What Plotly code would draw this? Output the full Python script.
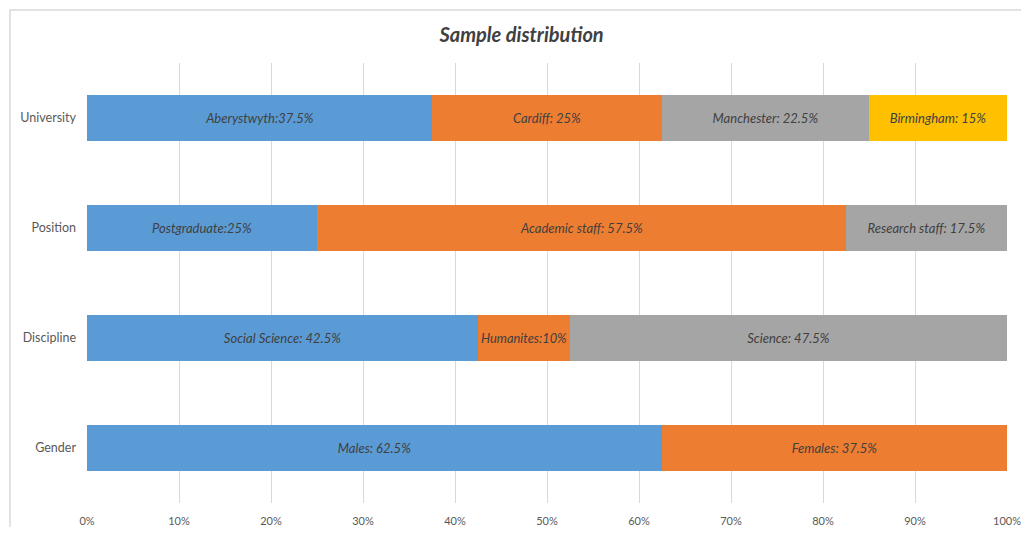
import plotly.graph_objects as go

categories = ["Gender", "Discipline", "Position", "University"]

seg1_values = [62.5, 42.5, 25, 37.5]
seg1_labels = ["Males: 62.5%", "Social Science: 42.5%", "Postgraduate:25%", "Aberystwyth:37.5%"]

seg2_values = [37.5, 10, 57.5, 25]
seg2_labels = ["Females: 37.5%", "Humanites:10%", "Academic staff: 57.5%", "Cardiff: 25%"]

seg3_values = [None, 47.5, 17.5, 22.5]
seg3_labels = ["", "Science: 47.5%", "Research staff: 17.5%", "Manchester: 22.5%"]

seg4_values = [None, None, None, 15]
seg4_labels = ["", "", "", "Birmingham: 15%"]

x_ticks = [0, 10, 20, 30, 40, 50, 60, 70, 80, 90, 100]
x_tick_labels = ["0%", "10%", "20%", "30%", "40%", "50%", "60%", "70%", "80%", "90%", "100%"]

colors = ["#5B9BD5", "#ED7D31", "#A5A5A5", "#FFC000"]

fig = go.Figure()
for vals, labs, col in [(seg1_values, seg1_labels, colors[0]),
                        (seg2_values, seg2_labels, colors[1]),
                        (seg3_values, seg3_labels, colors[2]),
                        (seg4_values, seg4_labels, colors[3])]:
    fig.add_trace(go.Bar(
        y=categories, x=vals, orientation="h",
        marker=dict(color=col, line=dict(width=0)),
        text=labs, textposition="inside", insidetextanchor="middle",
        textangle=0,
        textfont=dict(family="Lato, sans-serif", size=13, color="#404040", style="italic"),
        width=0.41, hoverinfo="skip", showlegend=False,
    ))

fig.update_layout(
    width=1013, height=519,
    barmode="stack",
    paper_bgcolor="white", plot_bgcolor="white",
    margin=dict(l=79, r=14, t=55, b=24),
    title=dict(text="<b><i>Sample distribution</i></b>", x=0.507, xanchor="center",
               y=0.948, yanchor="middle",
               font=dict(family="Lato, sans-serif", size=20, color="#404040")),
    font=dict(family="Lato, sans-serif", color="#595959"),
)
fig.update_xaxes(range=[0, 100], tickvals=x_ticks, ticktext=x_tick_labels,
                 showgrid=True, gridcolor="#D9D9D9", gridwidth=1,
                 zeroline=False, showline=False, automargin=False,
                 ticklabeloverflow="allow", ticklabelstandoff=10,
                 tickfont=dict(size=11, color="#595959"))
fig.update_yaxes(categoryorder="array", categoryarray=categories,
                 showgrid=False, zeroline=False, showline=False, automargin=False,
                 ticks="", ticklabelstandoff=10,
                 tickfont=dict(size=12.5, color="#595959"))

fig.add_shape(type="rect", xref="paper", yref="paper",
              x0=-0.0837, x1=1.05, y0=-0.2, y1=1.1205,
              line=dict(color="#D9D9D9", width=1.5), fillcolor="rgba(0,0,0,0)",
              layer="below")

fig.write_html("out.html")
